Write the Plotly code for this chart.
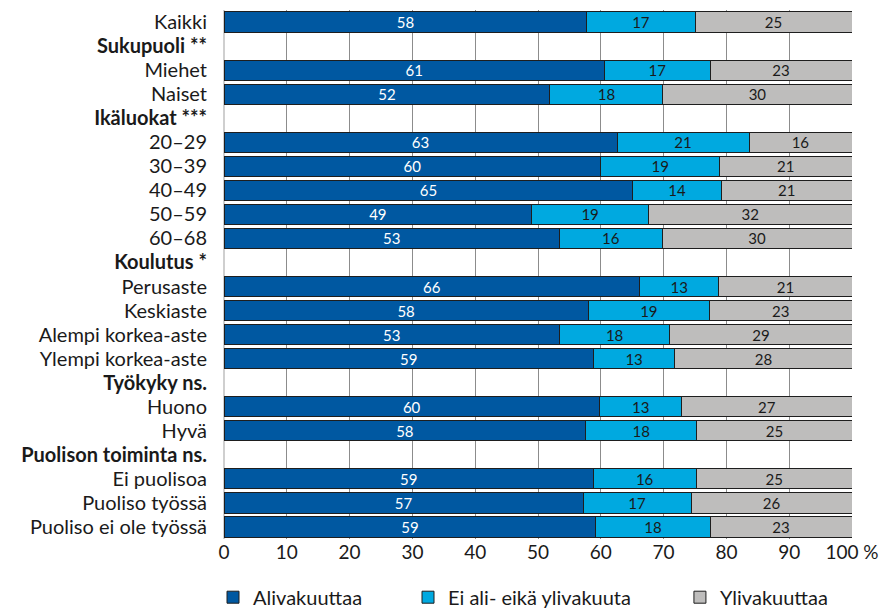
import plotly.graph_objects as go

# Row labels (header rows are bold and carry no bars)
rows = [
    "Kaikki",
    "<b>Sukupuoli **</b>",
    "Miehet", "Naiset",
    "<b>Ikäluokat ***</b>",
    "20–29", "30–39", "40–49", "50–59", "60–68",
    "<b>Koulutus *</b>",
    "Perusaste", "Keskiaste", "Alempi korkea-aste", "Ylempi korkea-aste",
    "<b>Työkyky ns.</b>",
    "Huono", "Hyvä",
    "<b>Puolison toiminta ns.</b>",
    "Ei puolisoa", "Puoliso työssä", "Puoliso ei ole työssä",
]

# Shares (%) per row; None for header rows
alivakuuttaa = [57.8, None, 60.6, 51.9, None, 62.6, 60.0, 65.1, 49.0, 53.4, None,
                66.2, 58.0, 53.4, 58.8, None, 59.8, 57.6, None, 58.8, 57.2, 59.2]
ei_ali_eika_yli = [17.2, None, 16.8, 18.0, None, 21.0, 18.9, 14.1, 18.6, 16.4, None,
                   12.6, 19.3, 17.6, 13.0, None, 13.1, 17.7, None, 16.4, 17.2, 18.2]
ylivakuuttaa = [25.0, None, 22.6, 30.1, None, 16.4, 21.1, 20.8, 32.4, 30.2, None,
                21.2, 22.7, 29.0, 28.2, None, 27.1, 24.7, None, 24.8, 25.6, 22.6]

series_names = ["Alivakuuttaa", "Ei ali- eikä ylivakuuta", "Ylivakuuttaa"]
series_values = [alivakuuttaa, ei_ali_eika_yli, ylivakuuttaa]
series_colors = ["#0058A1", "#00A9E0", "#BEBDBC"]
label_colors = ["white", "#1a1a1a", "#1a1a1a"]

tick_vals = [0, 10, 20, 30, 40, 50, 60, 70, 80, 90, 100]
tick_text = ["0", "10", "20", "30", "40", "50", "60", "70", "80", "90", "100\u00a0%"]

FONT = "Lato, 'Open Sans', sans-serif"

# one legend box per series so the three entries can be spaced freely
legend_ids = ["legend", "legend2", "legend3"]
legend_x = [-0.0175, 0.293, 0.726]

fig = go.Figure()
for name, vals, col, lc, lg in zip(series_names, series_values, series_colors,
                                   label_colors, legend_ids):
    fig.add_trace(go.Bar(
        y=rows, x=vals, name=name, orientation="h", legend=lg,
        marker=dict(color=col, line=dict(color="#1e1e1e", width=1)),
        texttemplate="%{x:.0f}", textposition="inside", insidetextanchor="middle",
        textangle=0,
        textfont=dict(color=lc, size=15, family=FONT),
        constraintext="none",
        hoverinfo="skip",
    ))

legend_style = dict(
    orientation="h", xanchor="left", y=-0.11, yanchor="middle",
    font=dict(size=20, family=FONT, color="#1a1a1a"),
    bgcolor="rgba(0,0,0,0)",
    itemclick=False, itemdoubleclick=False,
)

fig.update_layout(
    barmode="stack",
    bargap=0.16,
    width=890, height=608,
    margin=dict(l=224, r=38, t=10, b=69, autoexpand=False),
    paper_bgcolor="white", plot_bgcolor="white",
    font=dict(family=FONT, color="#1a1a1a", size=20),
    uniformtext=dict(minsize=15, mode="show"),
    legend=dict(x=legend_x[0], **legend_style),
    legend2=dict(x=legend_x[1], **legend_style),
    legend3=dict(x=legend_x[2], **legend_style),
    showlegend=True,
)

fig.update_xaxes(
    range=[0, 100], tickvals=tick_vals, ticktext=tick_text,
    showgrid=True, gridcolor="#8c8c8c", gridwidth=1,
    zeroline=True, zerolinecolor="#cfcfcf", zerolinewidth=2,
    showline=False, ticks="", tickfont=dict(size=19, family=FONT),
    fixedrange=True,
)
fig.update_yaxes(
    categoryorder="array", categoryarray=rows, autorange="reversed",
    showgrid=False, showline=False, ticks="", ticklabelstandoff=16,
    tickfont=dict(size=20, family=FONT),
    fixedrange=True,
)

fig.write_html("out.html")
